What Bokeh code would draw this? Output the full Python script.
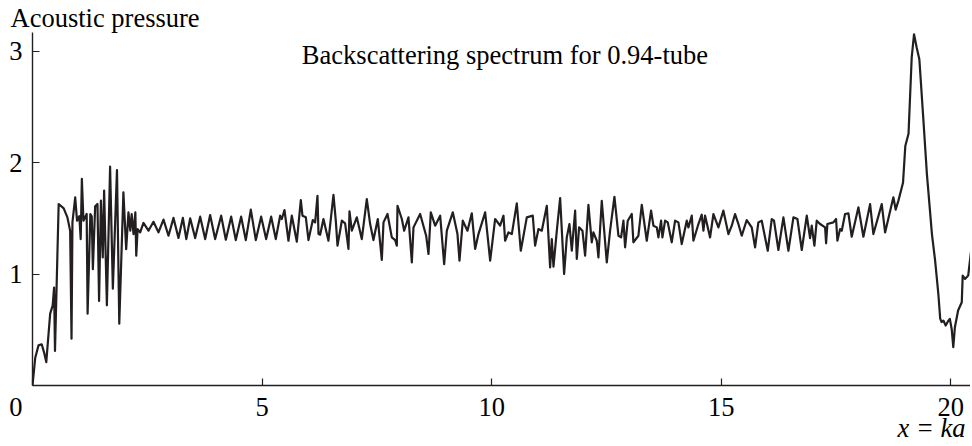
from bokeh.plotting import figure
from bokeh.models import Range1d, FixedTicker, Label, ColumnDataSource, Title
from bokeh.embed import file_html
from bokeh.resources import INLINE

# ---- data ----
ka = [0.00, 0.06, 0.13, 0.20, 0.25, 0.30, 0.385, 0.44, 0.47, 0.49, 0.57, 0.68, 0.76, 0.82, 0.85,
      0.87, 0.93, 0.97, 1.02, 1.05, 1.075, 1.11, 1.18, 1.20, 1.26, 1.29, 1.315, 1.365, 1.415, 1.45,
      1.49, 1.53, 1.56, 1.62, 1.69, 1.75, 1.84, 1.89, 1.98, 2.04, 2.09, 2.13, 2.16, 2.20, 2.24,
      2.26, 2.29, 2.345, 2.417, 2.526, 2.635, 2.744, 2.853, 2.962, 3.071, 3.179, 3.275, 3.35, 3.434,
      3.543, 3.652, 3.761, 3.869, 3.978, 4.109, 4.211, 4.327, 4.428, 4.544, 4.646, 4.755, 4.864,
      4.980, 5.089, 5.198, 5.299, 5.394, 5.43, 5.488, 5.575, 5.648, 5.757, 5.844, 5.88, 5.953,
      6.011, 6.105, 6.156, 6.207, 6.229, 6.265, 6.337, 6.446, 6.555, 6.606, 6.643, 6.70, 6.737,
      6.809, 6.882, 6.904, 6.955, 7.063, 7.172, 7.281, 7.354, 7.426, 7.521, 7.608, 7.645, 7.732,
      7.826, 7.899, 7.935, 7.95, 8.044, 8.095, 8.189, 8.262, 8.298, 8.443, 8.574, 8.625, 8.675,
      8.77, 8.879, 8.966, 9.024, 9.154, 9.256, 9.30, 9.372, 9.474, 9.568, 9.641, 9.713, 9.859,
      9.968, 10.076, 10.185, 10.258, 10.294, 10.367, 10.44, 10.548, 10.635, 10.766, 10.896,
      10.947, 11.02, 11.093, 11.202, 11.274, 11.31, 11.347, 11.42, 11.492, 11.579, 11.637,
      11.695, 11.746, 11.819, 11.855, 11.905, 11.978, 12.036, 12.108, 12.181, 12.217, 12.29,
      12.326, 12.399, 12.508, 12.58, 12.675, 12.762, 12.82, 12.871, 12.907, 12.965, 13.052,
      13.088, 13.197, 13.27, 13.379, 13.473, 13.524, 13.597, 13.633, 13.691, 13.72, 13.778,
      13.836, 13.923, 13.996, 14.068, 14.141, 14.25, 14.286, 14.359, 14.395, 14.504, 14.576,
      14.613, 14.649, 14.758, 14.831, 14.939, 15.048, 15.157, 15.23, 15.302, 15.375, 15.448,
      15.556, 15.665, 15.738, 15.81, 15.883, 16.014, 16.101, 16.15, 16.246, 16.355, 16.464,
      16.573, 16.66, 16.755, 16.864, 16.936, 16.972, 17.03, 17.081, 17.154, 17.263, 17.285,
      17.313, 17.444, 17.502, 17.531, 17.59, 17.626, 17.698, 17.771, 17.843, 17.989, 18.097,
      18.243, 18.315, 18.497, 18.57, 18.75, 18.80, 18.86, 18.96, 19.01, 19.08, 19.15, 19.20,
      19.26, 19.316, 19.40, 19.48, 19.59, 19.66, 19.73, 19.77, 19.80, 19.84, 19.89, 19.95,
      19.98, 20.02, 20.055, 20.09, 20.16, 20.24, 20.26, 20.31, 20.38, 20.46, 20.52]

pressure = [0.00, 0.25, 0.36, 0.37, 0.30, 0.21, 0.645, 0.72, 0.88, 0.31, 1.63, 1.59, 1.51, 1.39, 0.42,
            1.465, 1.69, 1.48, 1.52, 1.315, 1.855, 1.48, 1.54, 0.645, 1.54, 1.52, 1.045, 1.61, 1.63, 0.76,
            1.66, 1.15, 1.75, 0.72, 1.965, 0.87, 1.935, 0.555, 1.735, 1.225, 1.555, 1.39, 1.54, 1.36, 1.555,
            1.166, 1.405, 1.375, 1.46, 1.39, 1.47, 1.375, 1.49, 1.345, 1.505, 1.325, 1.505, 1.315, 1.501,
            1.324, 1.516, 1.315, 1.531, 1.315, 1.525, 1.309, 1.516, 1.306, 1.516, 1.306, 1.579, 1.306,
            1.516, 1.315, 1.516, 1.315, 1.525, 1.495, 1.576, 1.30, 1.525, 1.291, 1.665, 1.525, 1.51,
            1.306, 1.486, 1.465, 1.704, 1.36, 1.354, 1.495, 1.30, 1.713, 1.48, 1.256, 1.39, 1.48,
            1.456, 1.226, 1.564, 1.39, 1.51, 1.315, 1.674, 1.45, 1.306, 1.495, 1.127, 1.465, 1.54,
            1.33, 1.306, 1.256, 1.614, 1.495, 1.39, 1.51, 1.106, 1.42, 1.54, 1.345, 1.181, 1.555,
            1.435, 1.525, 1.09, 1.39, 1.555, 1.36, 1.121, 1.48, 1.39, 1.546, 1.226, 1.36, 1.555,
            1.121, 1.495, 1.435, 1.525, 1.30, 1.375, 1.36, 1.635, 1.21, 1.51, 1.525,
            1.256, 1.405, 1.39, 1.614, 1.06, 1.315, 1.067, 1.39, 1.683, 1.001, 1.33,
            1.45, 1.21, 1.57, 1.136, 1.42, 1.39, 1.166, 1.623, 1.286, 1.375, 1.30,
            1.151, 1.659, 1.106, 1.39, 1.695, 1.345, 1.33, 1.48, 1.241, 1.48, 1.54,
            1.286, 1.345, 1.623, 1.30, 1.57, 1.435, 1.42, 1.33, 1.48, 1.33, 1.48,
            1.465, 1.286, 1.48, 1.465, 1.27, 1.48, 1.42, 1.525, 1.30, 1.45, 1.534,
            1.39, 1.525, 1.33, 1.54, 1.42, 1.57, 1.36, 1.435, 1.54, 1.45, 1.345,
            1.486, 1.42, 1.241, 1.465, 1.48, 1.21, 1.495, 1.48, 1.217, 1.51, 1.21,
            1.51, 1.495, 1.217, 1.525, 1.324, 1.435, 1.256, 1.48, 1.45, 1.42, 1.277,
            1.45, 1.465, 1.495, 1.30, 1.405, 1.39, 1.54, 1.546, 1.336, 1.60, 1.336,
            1.629, 1.36, 1.629, 1.375, 1.69, 1.58, 1.66, 1.82, 2.15, 2.26, 2.95, 3.154,
            3.03, 2.93, 2.41, 1.90, 1.36, 1.12, 0.82, 0.60, 0.57, 0.583, 0.538, 0.583,
            0.598, 0.508, 0.344, 0.523, 0.673, 0.747, 0.987, 0.957, 0.987, 1.27, 1.40]

x_ticks = [0, 5, 10, 15, 20]
y_ticks = [1, 2, 3]
title_text = "Backscattering spectrum for 0.94-tube"
y_title = "Acoustic pressure"
x_title = "x = ka"

FONT = "Liberation Serif"
FS = "26.5px"
INK = "#231f20"

p = figure(width=970, height=444, output_backend="svg", toolbar_location=None,
           x_range=Range1d(0, 20.43), y_range=Range1d(0, 3.17),
           min_border_left=32, min_border_right=0, min_border_top=31, min_border_bottom=59)
p.background_fill_color = "white"
p.border_fill_color = "white"
p.outline_line_color = None
p.grid.visible = False

src = ColumnDataSource(data=dict(ka=ka, pressure=pressure))
p.line("ka", "pressure", source=src, line_color=INK, line_width=2.2, line_join="round")

for ax in (p.xaxis[0], p.yaxis[0]):
    ax.axis_line_color = INK
    ax.axis_line_width = 1.4
    ax.major_tick_line_color = INK
    ax.major_tick_line_width = 1.2
    ax.major_tick_in = 7
    ax.major_tick_out = 0
    ax.minor_tick_line_color = None
    ax.major_label_text_font = FONT
    ax.major_label_text_font_size = FS
    ax.major_label_text_color = "black"

p.xaxis.ticker = FixedTicker(ticks=x_ticks)
p.xaxis.major_label_overrides = {0: "0" + "\u00a0" * 5}
p.yaxis.ticker = FixedTicker(ticks=y_ticks)
p.xaxis.major_label_standoff = 6
p.yaxis.major_label_standoff = 10

p.add_layout(Title(text=y_title, align="left", offset=-22, standoff=0, vertical_align="bottom",
                   text_font=FONT, text_font_size=FS, text_font_style="normal",
                   text_color="black"), "above")
p.add_layout(Title(text=x_title, align="right", offset=5, standoff=-24, vertical_align="top",
                   text_font=FONT, text_font_size=FS, text_font_style="italic",
                   text_color="black"), "below")

p.add_layout(Label(x=5.867, y=2.97, text=title_text, text_font=FONT, text_font_size=FS,
                   text_align="left", text_baseline="alphabetic", text_color="black"))

open("out.html", "w").write(file_html(p, INLINE))
